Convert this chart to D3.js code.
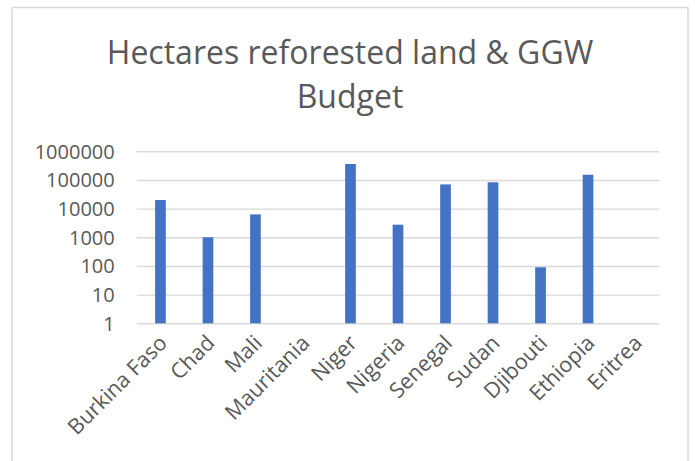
<!DOCTYPE html>
<html>
<head>
<meta charset="utf-8">
<script src="https://cdn.jsdelivr.net/npm/d3@7"></script>
<style>
  html, body { margin: 0; padding: 0; background: #fff; }
  svg { display: block; }
</style>
</head>
<body>
<svg id="chart" width="695" height="461"></svg>
<script>
const titleLines = ["Hectares reforested land & GGW", "Budget"];
const categories = ["Burkina Faso", "Chad", "Mali", "Mauritania", "Niger", "Nigeria", "Senegal", "Sudan", "Djibouti", "Ethiopia", "Eritrea"];
const values = [20000, 1000, 6300, null, 360000, 2750, 70000, 83000, 90, 152000, null];
const yTicks = [1, 10, 100, 1000, 10000, 100000, 1000000];

const svg = d3.select("#chart");
const font = "'Open Sans', 'Liberation Sans', sans-serif";
const textColor = "#595959";
const gridColor = "#d9d9d9";

// chart border
svg.append("rect")
  .attr("x", 12).attr("y", 7.5)
  .attr("width", 676).attr("height", 470)
  .attr("fill", "#fff")
  .attr("stroke", gridColor).attr("stroke-width", 1.5);

const plot = { left: 136.7, right: 659.3, top: 151.3, bottom: 323.3 };

const x = d3.scaleBand().domain(categories).range([plot.left, plot.right]).paddingInner(0.775).paddingOuter(0.3875);
const y = d3.scaleLog().domain([1, 1000000]).range([plot.bottom, plot.top]);

// title
const title = svg.append("text")
  .attr("text-anchor", "middle")
  .attr("font-family", font)
  .attr("font-size", 32)
  .attr("fill", textColor);
titleLines.forEach((t, i) => {
  title.append("tspan").attr("x", 350).attr("y", 64 + i * 44).text(t);
});

// gridlines + y labels
const yAxis = d3.axisLeft(y).tickValues(yTicks).tickFormat(d3.format("d")).tickSize(-(plot.right - plot.left)).tickPadding(22);
const gy = svg.append("g").attr("transform", `translate(${plot.left},0)`).call(yAxis);
gy.select(".domain").remove();
gy.selectAll(".tick line").attr("stroke", gridColor).attr("stroke-width", 1.4);
gy.selectAll(".tick text")
  .attr("font-family", font).attr("font-size", 20).attr("fill", textColor)
  .attr("dy", "0.35em");

// bars
svg.append("g").selectAll("rect")
  .data(categories.map((c, i) => ({ c, v: values[i] })).filter(d => d.v != null))
  .join("rect")
  .attr("x", d => x(d.c))
  .attr("width", x.bandwidth())
  .attr("y", d => y(d.v))
  .attr("height", d => y(1) - y(d.v))
  .attr("fill", "#4472C4");

// x labels
const xAxis = d3.axisBottom(x).tickSize(0).tickPadding(0);
const gx = svg.append("g").attr("transform", `translate(0,${plot.bottom})`).call(xAxis);
gx.select(".domain").remove();
gx.selectAll(".tick text")
  .attr("font-family", font).attr("font-size", 21.5).attr("fill", textColor)
  .attr("text-anchor", "end")
  .attr("dy", null)
  .attr("transform", "translate(8,21) rotate(-45)");
</script>
</body>
</html>
